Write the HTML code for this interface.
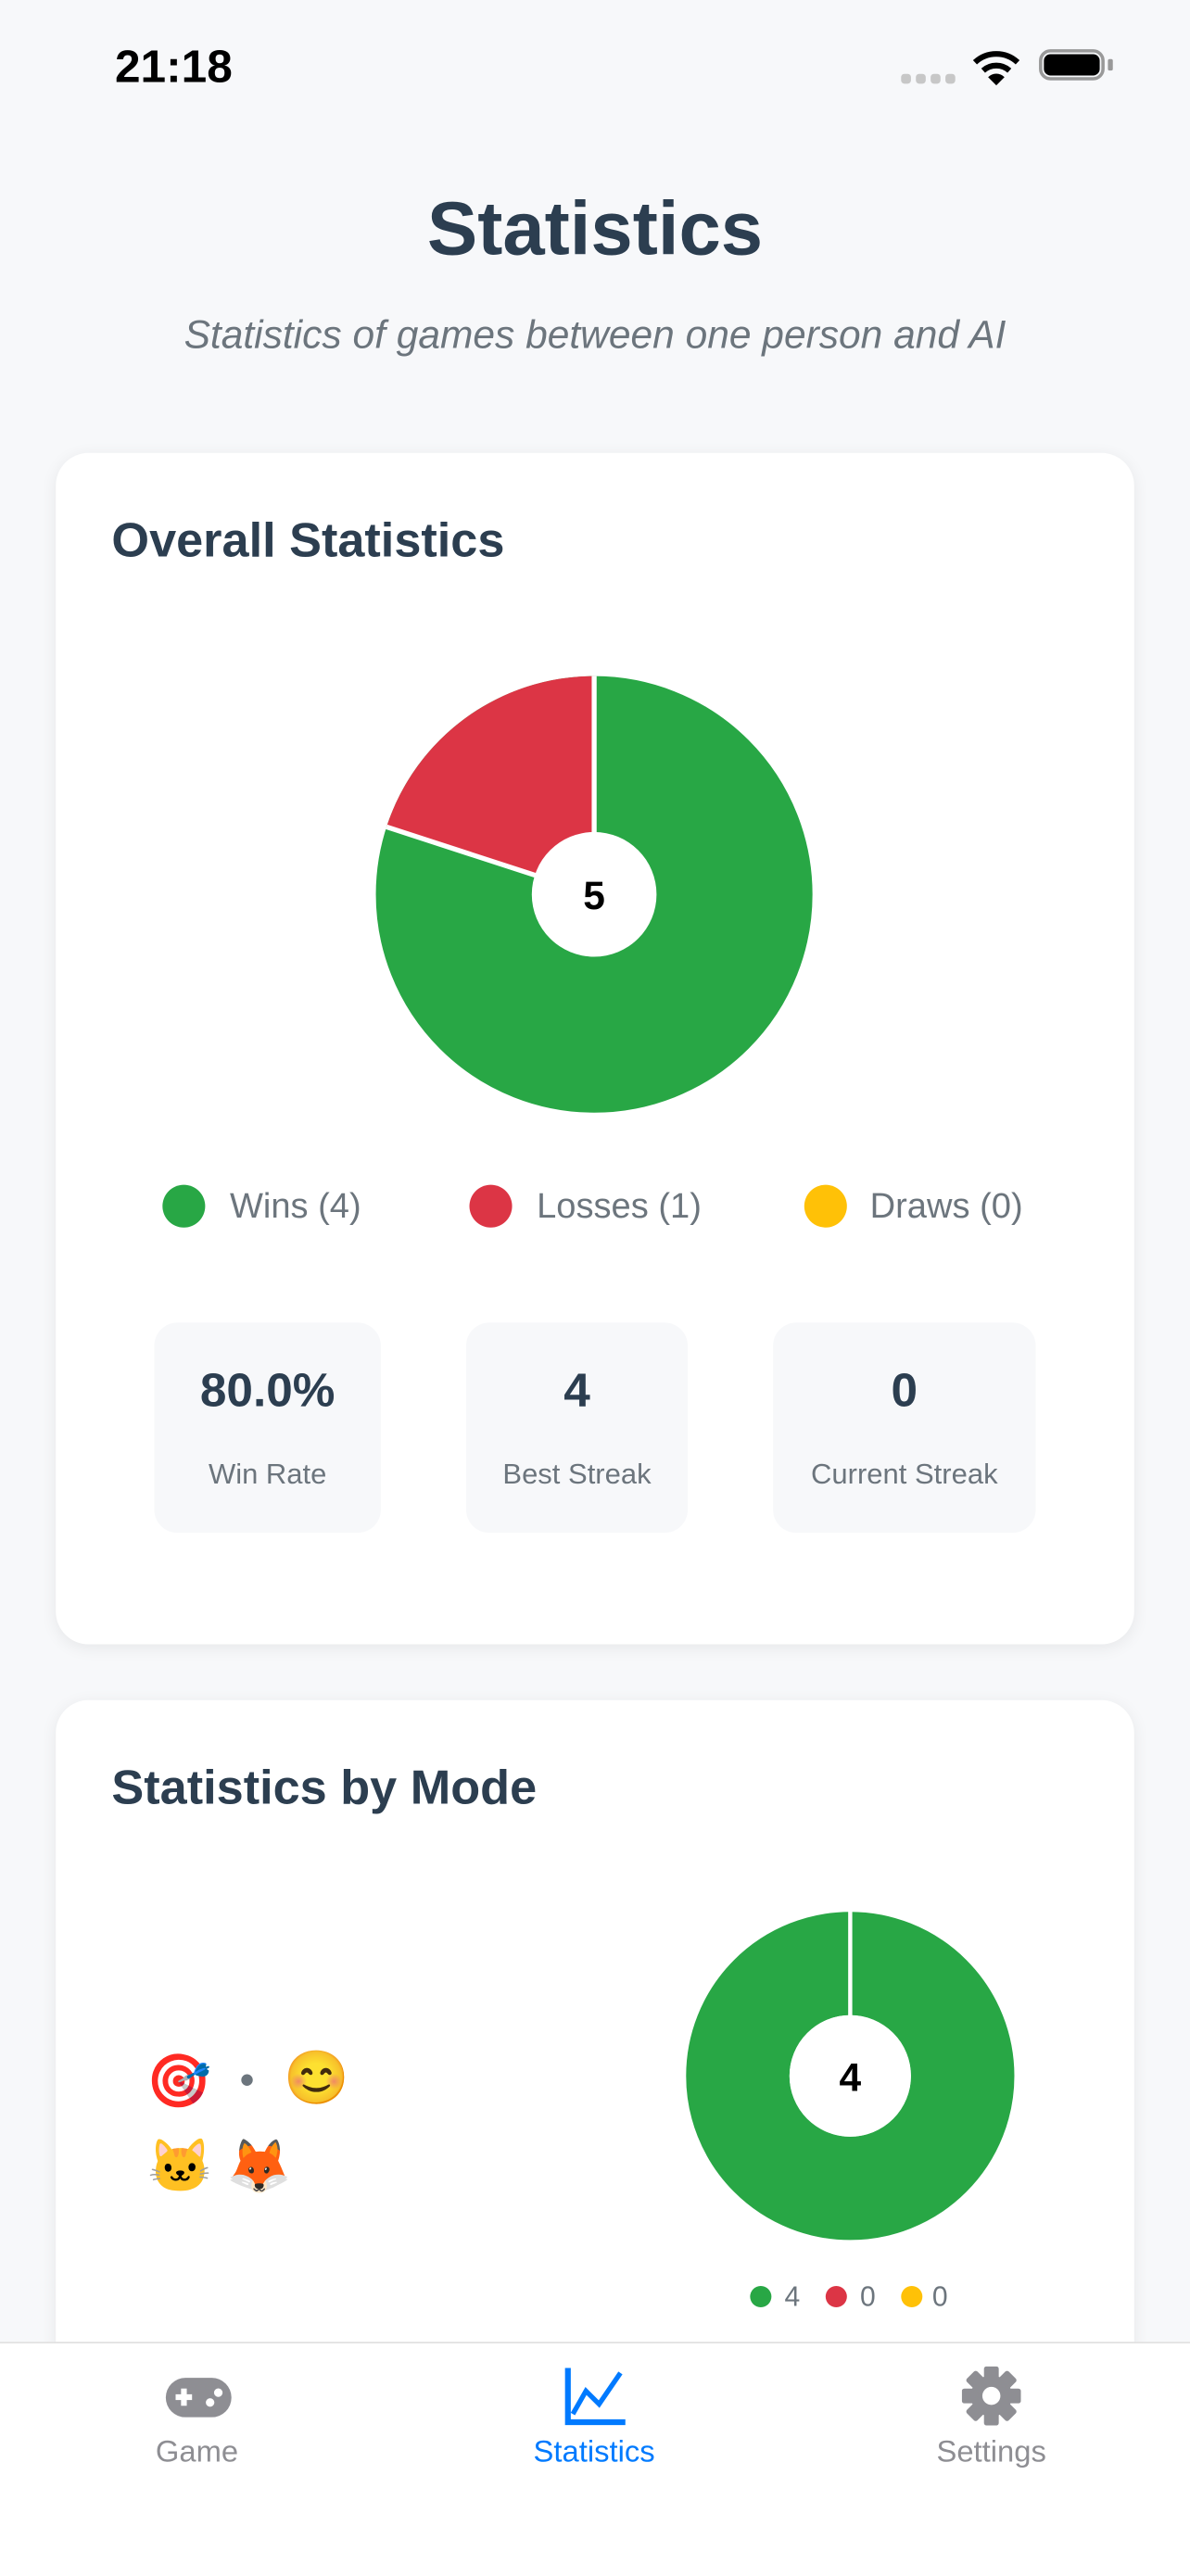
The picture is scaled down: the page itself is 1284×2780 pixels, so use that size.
<!DOCTYPE html>
<html><head><meta charset="utf-8">
<style>
html,body{margin:0;padding:0;width:1284px;height:2778px;overflow:hidden;background:#f7f8fa;}
#w{position:absolute;left:0;top:0;width:725px;height:1569px;transform:scale(1.7710);transform-origin:0 0;font-family:"Liberation Sans","Noto Sans CJK SC",sans-serif;}
.a{position:absolute;white-space:nowrap;}
.card{position:absolute;left:34px;width:657px;background:#fff;border-radius:20px;box-shadow:0 2px 10px rgba(0,0,0,0.07);}
.box{position:absolute;top:806px;height:128px;background:#f7f8fa;border-radius:14px;}
.box .v{position:absolute;left:0;right:0;top:26px;text-align:center;font-weight:bold;font-size:29px;color:#2c3e50;}
.box .l{position:absolute;left:0;right:0;top:82px;text-align:center;font-size:17.5px;color:#6c757d;}
.dot{position:absolute;border-radius:50%;}
</style></head><body><div id="w">
<div class="a" style="left:70px;top:25px;font-size:28px;font-weight:bold;color:#000;">21:18</div>
<div class="dot" style="left:549px;top:45px;width:6px;height:6px;background:#c7c7c7;border-radius:2px"></div>
<div class="dot" style="left:558px;top:45px;width:6px;height:6px;background:#c7c7c7;border-radius:2px"></div>
<div class="dot" style="left:567px;top:45px;width:6px;height:6px;background:#c7c7c7;border-radius:2px"></div>
<div class="dot" style="left:576px;top:45px;width:6px;height:6px;background:#c7c7c7;border-radius:2px"></div>
<svg class="a" style="left:592px;top:29px" width="30" height="24" viewBox="0 0 30 24"><path d="M2 9 A19 19 0 0 1 28 9" stroke="#000" stroke-width="3.5" fill="none"/><path d="M7 14 A12 12 0 0 1 23 14" stroke="#000" stroke-width="3.5" fill="none"/><path d="M10 18 L15 23 L20 18 A7 7 0 0 0 10 18Z" fill="#000"/></svg>
<div class="a" style="left:633px;top:30px;width:40px;height:19px;border:2px solid #999;border-radius:7px;box-sizing:border-box;"></div>
<div class="a" style="left:636px;top:33px;width:34px;height:13px;background:#000;border-radius:4px;"></div>
<div class="a" style="left:675px;top:36px;width:3px;height:7px;background:#999;border-radius:1px"></div>

<div class="a" style="left:0;width:725px;text-align:center;top:112px;font-size:46px;font-weight:bold;color:#2c3e50;">Statistics</div>
<div class="a" style="left:0;width:725px;text-align:center;top:191px;font-size:24px;font-style:italic;color:#6c757d;">Statistics of games between one person and AI</div>

<div class="card" style="top:276px;height:726px;"></div>
<div class="card" style="top:1036px;height:500px;"></div>
<div class="a" style="left:68px;top:313px;font-size:29.5px;font-weight:bold;color:#2c3e50;">Overall Statistics</div>
<svg class="a" style="left:0;top:0" width="725" height="1400">
<circle cx="362" cy="545" r="85" fill="none" stroke="#28a745" stroke-width="96"/>
<path d="M235.5,503.9 A133,133 0 0 1 362,412 L362,508 A37,37 0 0 0 326.8,533.6 Z" fill="#dc3545"/>
<line x1="362" y1="412" x2="362" y2="508" stroke="#fff" stroke-width="3"/>
<line x1="235.5" y1="503.9" x2="326.8" y2="533.6" stroke="#fff" stroke-width="3"/>
<circle cx="362" cy="545" r="38" fill="#fff"/>
<text x="362" y="554" text-anchor="middle" font-family="Liberation Sans" font-weight="bold" font-size="24" fill="#000">5</text>
<circle cx="518" cy="1265" r="68.5" fill="none" stroke="#28a745" stroke-width="63"/>
<line x1="518" y1="1164" x2="518" y2="1229" stroke="#fff" stroke-width="2.5"/>
<circle cx="518" cy="1265" r="37" fill="#fff"/>
<text x="518" y="1274" text-anchor="middle" font-family="Liberation Sans" font-weight="bold" font-size="24" fill="#000">4</text>
</svg>
<div class="dot" style="left:99px;top:722px;width:26px;height:26px;background:#28a745"></div>
<div class="a" style="left:140px;top:723px;font-size:21.5px;color:#6c757d;">Wins (4)</div>
<div class="dot" style="left:286px;top:722px;width:26px;height:26px;background:#dc3545"></div>
<div class="a" style="left:327px;top:723px;font-size:21.5px;color:#6c757d;">Losses (1)</div>
<div class="dot" style="left:490px;top:722px;width:26px;height:26px;background:#ffc107"></div>
<div class="a" style="left:530px;top:723px;font-size:21.5px;color:#6c757d;">Draws (0)</div>

<div class="box" style="left:94px;width:138px;"><div class="v">80.0%</div><div class="l">Win Rate</div></div>
<div class="box" style="left:284px;width:135px;"><div class="v">4</div><div class="l">Best Streak</div></div>
<div class="box" style="left:471px;width:160px;"><div class="v">0</div><div class="l">Current Streak</div></div>

<div class="a" style="left:68px;top:1073px;font-size:29.5px;font-weight:bold;color:#2c3e50;">Statistics by Mode</div>
<div class="a" style="left:89px;top:1249px;font-size:32px;">🎯</div>
<div class="dot" style="left:147px;top:1264px;width:7px;height:7px;background:#6c757d"></div>
<div class="a" style="left:173px;top:1247px;font-size:32px;">😊</div>
<div class="a" style="left:90px;top:1301px;font-size:32px;">🐱</div>
<div class="a" style="left:138px;top:1301px;font-size:32px;">🦊</div>
<div class="dot" style="left:457px;top:1393px;width:13px;height:13px;background:#28a745"></div>
<div class="a" style="left:478px;top:1390px;font-size:17px;color:#6c757d;">4</div>
<div class="dot" style="left:503px;top:1393px;width:13px;height:13px;background:#dc3545"></div>
<div class="a" style="left:524px;top:1390px;font-size:17px;color:#6c757d;">0</div>
<div class="dot" style="left:549px;top:1393px;width:13px;height:13px;background:#ffc107"></div>
<div class="a" style="left:568px;top:1390px;font-size:17px;color:#6c757d;">0</div>

<div class="a" style="left:0;top:1427px;width:725px;height:142px;background:#fff;border-top:1px solid #e2e2e2;"></div>
<svg class="a" style="left:100px;top:1447px" width="42" height="28" viewBox="0 0 42 28"><rect x="1" y="2" width="40" height="24" rx="12" fill="#8e8e93"/><rect x="7" y="12" width="10" height="3.5" fill="#fff"/><rect x="10.3" y="8.5" width="3.5" height="10.5" fill="#fff"/><circle cx="28" cy="17" r="2.6" fill="#fff"/><circle cx="33" cy="11" r="2.6" fill="#fff"/></svg>
<div class="a" style="left:0;width:240px;text-align:center;top:1483px;font-size:18.5px;color:#8e8e93;">Game</div>
<svg class="a" style="left:344px;top:1443px" width="38" height="36" viewBox="0 0 38 36"><path d="M2 0 V33 H37" stroke="#007aff" stroke-width="3.5" fill="none"/><path d="M5 28 L13 14 L21 22 L34 3" stroke="#007aff" stroke-width="3" fill="none"/></svg>
<div class="a" style="left:242px;width:240px;text-align:center;top:1483px;font-size:18.5px;color:#007aff;">Statistics</div>
<svg class="a" style="left:586px;top:1442px" width="36" height="36" viewBox="-18 -18 36 36"><g fill="#8e8e93"><circle r="12.5"/><rect x="-4.5" y="-18" width="9" height="36" rx="1.5"/><rect x="-4.5" y="-18" width="9" height="36" rx="1.5" transform="rotate(45)"/><rect x="-4.5" y="-18" width="9" height="36" rx="1.5" transform="rotate(90)"/><rect x="-4.5" y="-18" width="9" height="36" rx="1.5" transform="rotate(135)"/></g><circle r="5.5" fill="#fff"/></svg>
<div class="a" style="left:484px;width:240px;text-align:center;top:1483px;font-size:18.5px;color:#8e8e93;">Settings</div>
</div></body></html>
